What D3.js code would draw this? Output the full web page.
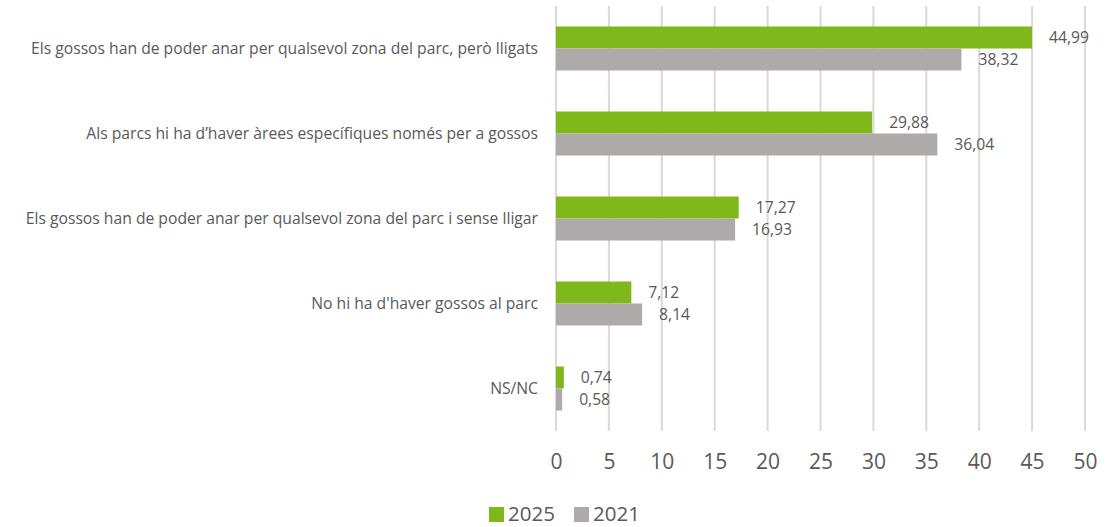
<!DOCTYPE html>
<html><head><meta charset="utf-8">
<script src="https://cdn.jsdelivr.net/npm/d3@7"></script>
<style>body{margin:0;background:#fff}svg{display:block}text{font-family:"Open Sans",sans-serif;fill:#595959}</style>
</head><body><svg id="c" width="1106" height="527"></svg>
<script>
const categories = ["Els gossos han de poder anar per qualsevol zona del parc, però lligats","Als parcs hi ha d’haver àrees específiques només per a gossos","Els gossos han de poder anar per qualsevol zona del parc i sense lligar","No hi ha d'haver gossos al parc","NS/NC"];
const series = ["2025","2021"];
const values2025 = [44.99,29.88,17.27,7.12,0.74];
const values2021 = [38.32,36.04,16.93,8.14,0.58];
const ticks = [0,5,10,15,20,25,30,35,40,45,50];
const colors = ["#7fb81a","#aeaaaa"];

const svg = d3.select("#c");
const x = d3.scaleLinear().domain([0,50]).range([556,1085]);
const y = d3.scaleBand().domain(categories).range([6,431]).paddingInner(0).paddingOuter(0);
const sub = d3.scaleBand().domain(series).range([0,44]);
const fmt = v => d3.format(".2f")(v).replace(".",",");

// grid
svg.append("g").selectAll("line").data(ticks).join("line")
 .attr("x1",d=>x(d)).attr("x2",d=>x(d)).attr("y1",6).attr("y2",431)
 .attr("stroke","#d9d9d9").attr("stroke-width",2);

const data = [values2025, values2021];
const rows = svg.append("g").selectAll("g").data(categories).join("g")
 .attr("transform",d=>`translate(0,${y(d)+y.bandwidth()/2-22})`);
series.forEach((s,si)=>{
  rows.append("rect").attr("x",x(0)).attr("y",sub(s))
   .attr("width",(d,i)=>x(data[si][i])-x(0)).attr("height",sub.bandwidth())
   .attr("fill",colors[si]);
  rows.append("text").attr("x",(d,i)=>x(data[si][i])+17).attr("y",sub(s)+sub.bandwidth()/2)
   .attr("dy","0.35em").attr("font-size",15.7).text((d,i)=>fmt(data[si][i]));
});
rows.append("text").attr("x",538).attr("y",22).attr("dy","0.35em").attr("text-anchor","end")
 .attr("font-size",15.7).text(d=>d);

// x axis
const ax = svg.append("g").attr("transform","translate(0,431)").call(d3.axisBottom(x).tickValues(ticks).tickSize(0).tickPadding(23));
ax.select(".domain").remove();
ax.selectAll("text").attr("font-size",21).style("font-family","'Open Sans',sans-serif").attr("fill","#595959");

// legend
const lg = svg.append("g");
const lx = [489,574];
series.forEach((s,i)=>{
  lg.append("rect").attr("x",lx[i]).attr("y",507).attr("width",15).attr("height",15).attr("fill",colors[i]);
  lg.append("text").attr("x",lx[i]+19).attr("y",521).attr("font-size",20.5).text(s);
});
</script></body></html>
